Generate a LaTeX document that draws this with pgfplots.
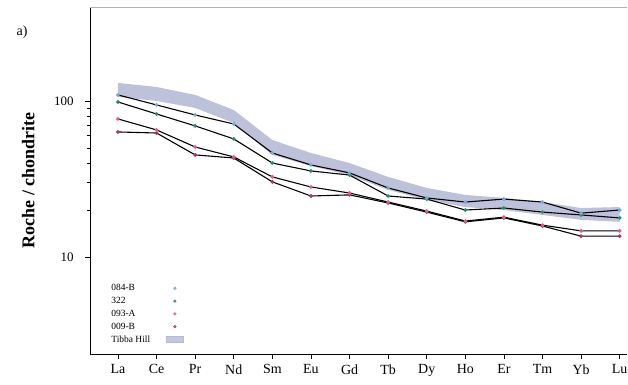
\documentclass[border=0pt]{standalone}
\usepackage{fontspec}
\setmainfont{Liberation Serif}
\usepackage{pgfplots}
\pgfplotsset{compat=1.18}
\usetikzlibrary{calc}
\definecolor{cA}{RGB}{110,170,210}
\definecolor{cB}{RGB}{40,140,110}
\definecolor{cC}{RGB}{225,95,125}
\definecolor{cD}{RGB}{160,60,90}
\definecolor{band}{RGB}{182,186,214}
\begin{document}
\begin{tikzpicture}
\begin{axis}[
  name=ax,
  scale only axis,
  width=537bp, height=347bp,
  xmin=-0.725, xmax=13.19,
  ymode=log, ymin=2.39, ymax=400,
  axis x line*=bottom, axis y line*=left,
  axis line style={black, line width=1pt},
  tick align=outside,
  major tick length=5bp, minor tick length=3bp,
  tick style={black, line width=0.7pt},
  xtick={0,...,13},
  xticklabels={La,Ce,Pr,Nd,Sm,Eu,Gd,Tb,Dy,Ho,Er,Tm,Yb,Lu},
  ytick={10,100}, yticklabels={10,100},
  /pgf/number format/assume math mode=true,
  xticklabel style={font=\fontsize{14}{16}\selectfont, yshift=-2bp},
  yticklabel style={font=\fontsize{13}{15}\selectfont, xshift=-8bp},
  ylabel={\textbf{Roche / chondrite}},
  every axis y label/.style={at={(axis description cs:-0.115,0.5)}, rotate=90, anchor=center, font=\fontsize{18}{20}\selectfont},
  legend plot pos=right,
  legend cell align=left,
  legend style={at={(axis description cs:0.032,0.018)}, anchor=south west, draw=none, fill=white, fill opacity=0.8, text opacity=1,
    font=\fontsize{9.5}{10}\selectfont, row sep=1bp, inner sep=2bp, /tikz/column sep=14bp},
]
% Tibba Hill band
\addplot[fill=band, fill opacity=0.9, draw=none, forget plot] coordinates {
(0,130.4) (1,122.9) (2,109.3) (3,87.5) (4,56.2) (5,46.4) (6,40.0) (7,32.6) (8,27.7) (9,25.0) (10,23.9) (11,22.5) (12,20.6) (13,20.9)
(13,16.8) (12,17.3) (11,18.6) (10,20.0) (9,20.9) (8,23.2) (7,26.9) (6,33.5) (5,38.3) (4,45.1) (3,72.3) (2,90.2) (1,100) (0,106.1)
} -- cycle;
% 009-B
\addplot[black, line width=1.1pt, mark=*, mark size=1.3pt, mark options={cD, draw=cD}, forget plot] coordinates {
(0,63.3) (1,62.3) (2,45.1) (3,43.1) (4,30.3) (5,24.6) (6,25.0) (7,22.2) (8,19.4) (9,16.8) (10,17.8) (11,15.8) (12,13.6) (13,13.6)};
% 093-A
\addplot[black, line width=1.1pt, mark=*, mark size=1.3pt, mark options={cC, draw=cC}, forget plot] coordinates {
(0,76.7) (1,65.2) (2,50.7) (3,43.8) (4,32.6) (5,28.1) (6,25.7) (7,22.5) (8,19.7) (9,17.0) (10,18.0) (11,16.0) (12,14.7) (13,14.7)};
% 322
\addplot[black, line width=1.1pt, mark=*, mark size=1.3pt, mark options={cB, draw=cB}, forget plot] coordinates {
(0,98.5) (1,82.5) (2,69.2) (3,57.1) (4,40.0) (5,35.6) (6,33.5) (7,24.6) (8,23.5) (9,20.0) (10,20.6) (11,19.4) (12,18.6) (13,17.8)};
% 084-B
\addplot[black, line width=1.1pt, mark=*, mark size=1.3pt, mark options={cA, draw=cA}, forget plot] coordinates {
(0,109.3) (1,94.3) (2,81.3) (3,71.2) (4,46.4) (5,38.9) (6,34.6) (7,27.7) (8,23.9) (9,22.5) (10,23.5) (11,22.5) (12,19.1) (13,20.0)};
\addlegendimage{only marks, mark=*, mark size=1.4pt, cA}
\addlegendentry{084-B}
\addlegendimage{only marks, mark=*, mark size=1.4pt, cB}
\addlegendentry{322}
\addlegendimage{only marks, mark=*, mark size=1.4pt, cC}
\addlegendentry{093-A}
\addlegendimage{only marks, mark=*, mark size=1.4pt, cD}
\addlegendentry{009-B}
\addlegendimage{area legend, fill=band, draw=band}
\addlegendentry{Tibba Hill}
\draw[gray!60, line width=0.8pt] (rel axis cs:0,1) -- (rel axis cs:1,1);
\draw[gray!35, line width=0.6pt] (rel axis cs:1,0) -- (rel axis cs:1,1);
\end{axis}
\node[font=\fontsize{14}{16}\selectfont] at ($(ax.north west)+(-68bp,-25bp)$) {a)};
\pgfresetboundingbox
\path[use as bounding box] ($(ax.south west)+(-90bp,-31bp)$) rectangle ($(ax.north east)+(1bp,7bp)$);
\end{tikzpicture}
\end{document}
